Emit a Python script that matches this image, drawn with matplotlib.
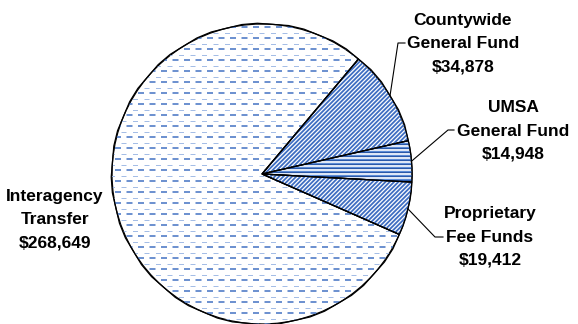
import numpy as np
import matplotlib
matplotlib.use('Agg')
import matplotlib.pyplot as plt
from matplotlib.collections import LineCollection

plt.rcParams['lines.scale_dashes'] = False
plt.rcParams['font.family'] = ['Liberation Sans Narrow', 'Liberation Sans', 'DejaVu Sans']

# funding sources (thousands)
names = ['Countywide\nGeneral Fund', 'UMSA\nGeneral Fund', 'Proprietary\nFee Funds', 'Interagency\nTransfer']
values = [34878, 14948, 19412, 268649]
textures = ['diag', 'hlines', 'diag', 'dashes']

W, H = 578, 324
fig = plt.figure(figsize=(W / 100, H / 100), dpi=100)
ax = fig.add_axes([0, 0, 1, 1])

cx, cy, r = 262, 150, 150
wedges, _ = ax.pie(values, startangle=50, counterclock=False, radius=r, center=(cx, cy),
                   wedgeprops=dict(facecolor='white', edgecolor='black', linewidth=0.9))
ax.set_xlim(0, W)
ax.set_ylim(0, H)
ax.set_aspect('auto')
ax.axis('off')

px = 0.72  # points per pixel at 100 dpi


def add_texture(w, kind):
    cols = []
    if kind == 'diag':
        segs = [[(x0, cy - r - 10), (x0 + 2 * r + 40, cy + r + 30)] for x0 in np.arange(cx - 3 * r, cx + r, 4.3)]
        cols.append(LineCollection(segs, colors='#3F6EC2', linewidths=1.8 * px, zorder=2))
    elif kind == 'hlines':
        segs = [[(cx - r, y), (cx + r, y)] for y in np.arange(cy - r, cy + r, 4.0)]
        cols.append(LineCollection(segs, colors='#5B8BD6', linewidths=2.4 * px, zorder=2))
        cols.append(LineCollection(segs, colors='#2A58A8', linewidths=1.0 * px, zorder=2))
    else:
        ys = np.arange(cy - r, cy + r, 5.5)
        for i, y in enumerate(ys):
            if i % 2 == 0:
                ln, = ax.plot([cx - r - 20, cx + r], [y, y], color='#5580C8', lw=1.7 * px,
                              linestyle=(0, (6 * px, 5.5 * px)), dash_capstyle='butt', zorder=2)
            else:
                ln, = ax.plot([cx - r - 20, cx + r], [y, y], color='#9AB6E4', lw=0.9 * px,
                              linestyle=(5.5 * px, (5 * px, 6.5 * px)), dash_capstyle='butt', zorder=2)
            ln.set_clip_path(w)
    for c in cols:
        ax.add_collection(c)
        c.set_clip_path(w)


for w, k in zip(wedges, textures):
    add_texture(w, k)
    w.set_zorder(1)
    # redraw outline on top
    ax.add_patch(plt.Polygon(w.get_path().vertices, closed=True, fill=False,
                             edgecolor='black', linewidth=0.9, zorder=3,
                             transform=w.get_transform()))

# labels: text centre and leader elbow (pixel coords from top)
label_pos = [(463, 44), (513, 131), (490, 237), (55, 220)]
elbows = [(398, 43, 405), (448, 130, 454), (435, 237, 443), None]

for w, name, v, (lx, ly), el in zip(wedges, names, values, label_pos, elbows):
    ax.text(lx, H - ly, f'{name}\n${v:,}', ha='center', va='center', fontsize=12.5,
            fontweight='bold', linespacing=1.7, color='black', zorder=5)
    if el is not None:
        mid = np.deg2rad((w.theta1 + w.theta2) / 2)
        ex, ey = cx + r * np.cos(mid), cy + r * np.sin(mid)
        ax.plot([ex, el[0], el[2]], [ey, H - el[1], H - el[1]], color='black', lw=0.8, zorder=5)

fig.savefig('out.png', dpi=100)
